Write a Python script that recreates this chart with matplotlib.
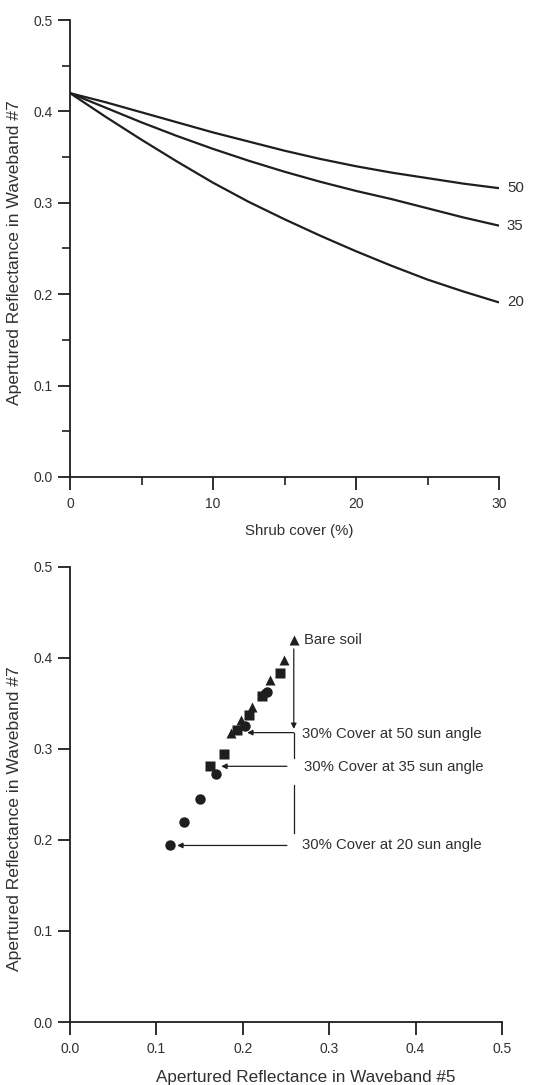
import matplotlib
matplotlib.use("Agg")
import matplotlib.pyplot as plt
from matplotlib.ticker import MultipleLocator

plt.rcParams['font.family'] = ['Liberation Sans', 'DejaVu Sans']

# ---- top panel data ----
shrub_cover = [0, 2.5, 5, 7.5, 10, 12.5, 15, 17.5, 20, 22.5, 25, 27.5, 30]
refl_sun50 = [0.420, 0.410, 0.399, 0.388, 0.377, 0.367, 0.357, 0.348, 0.340, 0.333, 0.327, 0.321, 0.316]
refl_sun35 = [0.420, 0.404, 0.388, 0.373, 0.359, 0.346, 0.334, 0.323, 0.313, 0.304, 0.294, 0.284, 0.275]
refl_sun20 = [0.420, 0.394, 0.369, 0.345, 0.322, 0.301, 0.282, 0.264, 0.247, 0.231, 0.216, 0.203, 0.191]
curve_labels = ["50", "35", "20"]

# ---- bottom panel data ----
tri_b5 = [0.259, 0.248, 0.232, 0.222, 0.211, 0.198, 0.186]
tri_b7 = [0.420, 0.398, 0.376, 0.360, 0.346, 0.332, 0.318]
sq_b5 = [0.243, 0.222, 0.207, 0.193, 0.178, 0.162]
sq_b7 = [0.384, 0.358, 0.337, 0.321, 0.295, 0.281]
circ_b5 = [0.228, 0.203, 0.169, 0.150, 0.132, 0.116]
circ_b7 = [0.363, 0.325, 0.272, 0.245, 0.220, 0.194]

ink = '#1e1e1e'
txt = '#303030'

fig = plt.figure(figsize=(5.54, 10.85), dpi=100)

# ---------------- top axes ----------------
ax1 = fig.add_axes([70/554, 1-477/1085, (499-70)/554, (477-20)/1085])
for y, lab in zip([refl_sun50, refl_sun35, refl_sun20], curve_labels):
    ax1.plot(shrub_cover, y, color=ink, lw=1.6, solid_capstyle='butt')
    ax1.text(shrub_cover[-1] + 0.55, y[-1], lab, fontsize=10.8, color=txt,
             va='center', ha='left')
ax1.set_xlim(0, 30)
ax1.set_ylim(0, 0.5)
ax1.xaxis.set_major_locator(MultipleLocator(10))
ax1.xaxis.set_minor_locator(MultipleLocator(5))
ax1.yaxis.set_major_locator(MultipleLocator(0.1))
ax1.yaxis.set_minor_locator(MultipleLocator(0.05))
ax1.set_yticklabels([f"{v:.1f}" for v in ax1.get_yticks()])
ax1.set_xlabel("Shrub cover (%)", fontsize=10.8, color=txt)
ax1.set_ylabel("Apertured Reflectance in Waveband #7", fontsize=12.6, color=txt)
ax1.xaxis.set_label_coords(0.534, -0.103)
ax1.yaxis.set_label_coords(-0.112, 0.49)

# ---------------- bottom axes ----------------
ax2 = fig.add_axes([70/554, 1-1022/1085, (502-70)/554, (1022-567)/1085])
ax2.plot(circ_b5, circ_b7, 'o', color=ink, ms=7.5, mec='none')
ax2.plot(sq_b5, sq_b7, 's', color=ink, ms=6.5, mec='none')
ax2.plot(tri_b5, tri_b7, '^', color=ink, ms=7.5, mec='none')
ax2.set_xlim(0, 0.5)
ax2.set_ylim(0, 0.5)
ax2.xaxis.set_major_locator(MultipleLocator(0.1))
ax2.yaxis.set_major_locator(MultipleLocator(0.1))
ax2.set_xticklabels([f"{v:.1f}" for v in ax2.get_xticks()])
ax2.set_yticklabels([f"{v:.1f}" for v in ax2.get_yticks()])
ax2.set_xlabel("Apertured Reflectance in Waveband #5", fontsize=12.3, color=txt)
ax2.set_ylabel("Apertured Reflectance in Waveband #7", fontsize=12.6, color=txt)
ax2.xaxis.set_label_coords(0.546, -0.106)
ax2.yaxis.set_label_coords(-0.112, 0.446)

# annotations
ap = dict(arrowstyle='-|>', color=ink, lw=0.9, mutation_scale=8, shrinkA=0, shrinkB=0)
xb = 0.259
ax2.annotate("", xy=(xb, 0.322), xytext=(xb, 0.410), arrowprops=ap)
ax2.annotate("", xy=(0.205, 0.318), xytext=(xb, 0.318), arrowprops=ap)
ax2.plot([xb, xb], [0.318, 0.290], color=ink, lw=0.9)
ax2.annotate("", xy=(0.175, 0.281), xytext=(0.251, 0.281), arrowprops=ap)
ax2.plot([xb, xb], [0.260, 0.208], color=ink, lw=0.9)
ax2.annotate("", xy=(0.124, 0.194), xytext=(0.251, 0.194), arrowprops=ap)

fs_ann = 10.7
ax2.text(0.271, 0.420, "Bare soil", fontsize=fs_ann, color=txt, va='center')
ax2.text(0.269, 0.317, "30% Cover at 50 sun angle", fontsize=fs_ann, color=txt, va='center')
ax2.text(0.271, 0.280, "30% Cover at 35 sun angle", fontsize=fs_ann, color=txt, va='center')
ax2.text(0.269, 0.194, "30% Cover at 20 sun angle", fontsize=fs_ann, color=txt, va='center')

for ax in (ax1, ax2):
    for s in ('top', 'right'):
        ax.spines[s].set_visible(False)
    for s in ('left', 'bottom'):
        ax.spines[s].set_linewidth(1.3)
        ax.spines[s].set_color(ink)
    ax.tick_params(which='major', length=9, width=1.3, color=ink,
                   labelsize=10, labelcolor=txt)
    ax.tick_params(which='minor', length=6, width=1.2, color=ink)
    ax.tick_params(axis='x', which='major', pad=5.5)
    ax.tick_params(axis='y', which='major', pad=3.5)

fig.savefig("out.png", dpi=100, facecolor='white')
